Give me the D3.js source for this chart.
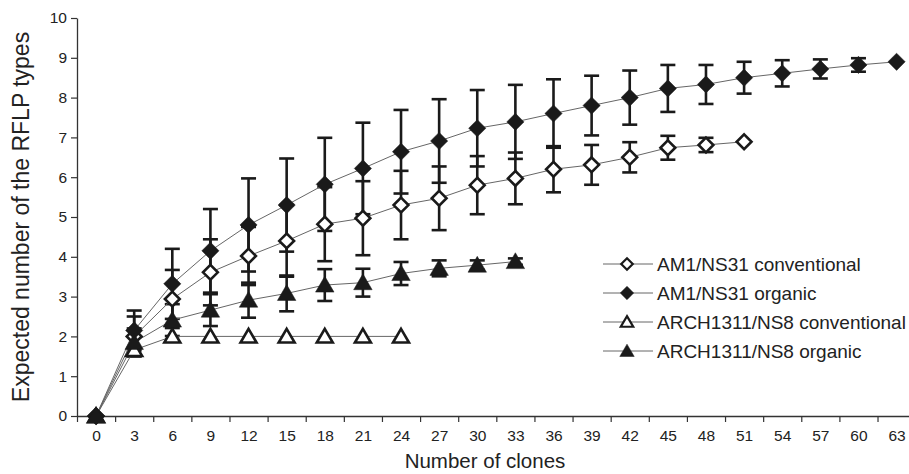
<!DOCTYPE html>
<html>
<head>
<meta charset="utf-8">
<script src="https://cdn.jsdelivr.net/npm/d3@7/dist/d3.min.js"></script>
<style>
  body { margin: 0; background: #fff; }
  svg { display: block; font-family: Arial, 'Liberation Sans', sans-serif; }
</style>
</head>
<body>
<svg id="chart"></svg>
<script>
const clones = [0, 3, 6, 9, 12, 15, 18, 21, 24, 27, 30, 33, 36, 39, 42, 45, 48, 51, 54, 57, 60, 63];

const am1Conv    = [0, 2.0, 2.94, 3.61, 4.02, 4.4, 4.82, 4.97, 5.3, 5.47, 5.8, 5.97, 6.2, 6.31, 6.5, 6.74, 6.81, 6.89];
const am1ConvErr = [0, 0.5, 0.73, 0.83, 0.73, 0.9, 0.93, 0.93, 0.86, 0.8, 0.73, 0.65, 0.58, 0.5, 0.38, 0.3, 0.18, 0];

const am1Org    = [0, 2.15, 3.32, 4.15, 4.8, 5.3, 5.82, 6.22, 6.64, 6.91, 7.23, 7.39, 7.6, 7.8, 8.0, 8.23, 8.33, 8.5, 8.61, 8.72, 8.82, 8.9];
const am1OrgErr = [0, 0.5, 0.88, 1.05, 1.17, 1.17, 1.17, 1.15, 1.05, 1.05, 0.96, 0.93, 0.86, 0.75, 0.68, 0.59, 0.49, 0.4, 0.33, 0.24, 0.17, 0];

const archConv    = [0, 1.66, 2, 2, 2, 2, 2, 2, 2];
const archConvErr = [0, 0, 0, 0, 0, 0, 0, 0, 0];

const archOrg    = [0, 1.85, 2.41, 2.66, 2.91, 3.08, 3.29, 3.35, 3.58, 3.71, 3.79, 3.88];
const archOrgErr = [0, 0.35, 0.4, 0.4, 0.44, 0.45, 0.4, 0.35, 0.29, 0.2, 0.12, 0.08];

const seriesNames = ['AM1/NS31 conventional', 'AM1/NS31 organic', 'ARCH1311/NS8 conventional', 'ARCH1311/NS8 organic'];
const yTicks = [0, 1, 2, 3, 4, 5, 6, 7, 8, 9, 10];

const width = 909;
const height = 474;

const svg = d3.select('#chart')
    .attr('width', width)
    .attr('height', height);

const x = d3.scaleLinear().domain([-1.5, 64.5]).range([77, 77 + 22 * 38.12]);
const y = d3.scaleLinear().domain([0, 10]).range([416, 18]);

const diamond = s => `M0,${-s}L${s},0L0,${s}L${-s},0Z`;
const triangle = s => `M0,${-s}L${s * 1.05},${s * 0.8}L${-s * 1.05},${s * 0.8}Z`;

const series = [
    {name: seriesNames[0], values: am1Conv, err: am1ConvErr, shape: diamond, size: 7.4, fill: '#fff'},
    {name: seriesNames[1], values: am1Org, err: am1OrgErr, shape: diamond, size: 8.6, fill: '#1a1a1a'},
    {name: seriesNames[2], values: archConv, err: archConvErr, shape: triangle, size: 7.6, fill: '#fff'},
    {name: seriesNames[3], values: archOrg, err: archOrgErr, shape: triangle, size: 8.8, fill: '#1a1a1a'}
];
series.forEach(s => {
    s.points = s.values.map((v, i) => ({clone: clones[i], value: v, err: s.err[i]}));
});

// axes
const xAxis = svg.append('g').attr('transform', `translate(0, ${y(0)})`);
xAxis.call(d3.axisBottom(x)
    .tickValues(d3.range(-1.5, 65, 3))
    .tickSize(6)
    .tickSizeOuter(0)
    .tickFormat(''));
const xLabels = svg.append('g').attr('transform', `translate(0, ${y(0)})`);
xLabels.call(d3.axisBottom(x).tickValues(clones).tickSize(0).tickPadding(14).tickFormat(d3.format('d')));
xLabels.select('.domain').remove();

const yAxis = svg.append('g').attr('transform', `translate(${x(-1.5)}, 0)`);
yAxis.call(d3.axisLeft(y).tickValues(yTicks).tickSize(6).tickSizeOuter(0).tickPadding(4));

svg.selectAll('.domain').attr('stroke', '#333').attr('stroke-width', 1.3);
svg.selectAll('.tick line').attr('stroke', '#333').attr('stroke-width', 1.2);
svg.selectAll('.tick text').attr('font-size', 15.5).attr('fill', '#222')
    .attr('font-family', 'Arial, "Liberation Sans", sans-serif');

svg.append('text')
    .attr('x', 485)
    .attr('y', 468)
    .attr('text-anchor', 'middle')
    .attr('font-size', 20.5)
    .attr('fill', '#222')
    .text('Number of clones');

svg.append('text')
    .attr('transform', `translate(29, ${y(5)}) rotate(-90)`)
    .attr('text-anchor', 'middle')
    .attr('font-size', 23)
    .attr('fill', '#222')
    .text('Expected number of the RFLP types');

// error bars
const bars = svg.append('g');
series.forEach(s => {
    const withErr = s.points.filter(d => d.err > 0);
    bars.selectAll(null).data(withErr).enter().append('line')
        .attr('x1', d => x(d.clone)).attr('x2', d => x(d.clone))
        .attr('y1', d => y(d.value - d.err)).attr('y2', d => y(d.value + d.err));
    [-1, 1].forEach(sign => {
        bars.selectAll(null).data(withErr).enter().append('line')
            .attr('x1', d => x(d.clone) - 7.5).attr('x2', d => x(d.clone) + 7.5)
            .attr('y1', d => y(d.value + sign * d.err)).attr('y2', d => y(d.value + sign * d.err));
    });
});
bars.selectAll('line').attr('stroke', '#1a1a1a').attr('stroke-width', 2.6);

// connecting lines
const line = d3.line().x(d => x(d.clone)).y(d => y(d.value));
series.forEach(s => {
    svg.append('path')
        .datum(s.points)
        .attr('fill', 'none')
        .attr('stroke', '#666')
        .attr('stroke-width', 1)
        .attr('d', line);
});

// markers
series.forEach(s => {
    svg.append('g').selectAll('path').data(s.points).enter().append('path')
        .attr('transform', d => `translate(${x(d.clone)}, ${y(d.value)})`)
        .attr('d', s.shape(s.size))
        .attr('fill', s.fill)
        .attr('stroke', '#1a1a1a')
        .attr('stroke-width', s.fill === '#fff' ? 2.6 : 0.5)
        .attr('stroke-linejoin', 'miter');
});

// legend
const legend = svg.append('g').attr('transform', 'translate(603, 264)');
const rows = legend.selectAll('g').data(series).enter().append('g')
    .attr('transform', (d, i) => `translate(0, ${i * 29})`);
rows.append('line')
    .attr('x1', 0).attr('x2', 50)
    .attr('stroke', '#666').attr('stroke-width', 1);
rows.append('path')
    .attr('transform', 'translate(24, 0)')
    .attr('d', d => d.shape(d.size * 0.78))
    .attr('fill', d => d.fill)
    .attr('stroke', '#1a1a1a')
    .attr('stroke-width', d => d.fill === '#fff' ? 2.2 : 0.5);
rows.append('text')
    .attr('x', 54)
    .attr('dy', '0.35em')
    .attr('font-size', 19)
    .attr('fill', '#222')
    .text(d => d.name);
</script>
</body>
</html>
